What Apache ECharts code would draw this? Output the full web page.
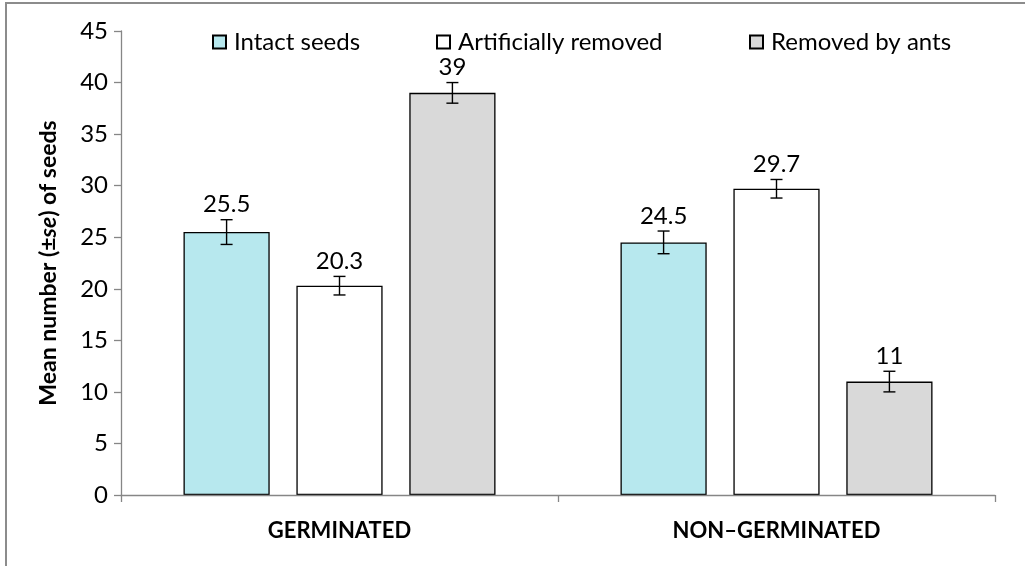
<!DOCTYPE html>
<html>
<head>
<meta charset="utf-8">
<script src="https://cdn.jsdelivr.net/npm/echarts@6/dist/echarts.min.js"></script>
<style>html,body{margin:0;padding:0;background:#fff}#c{width:1025px;height:566px}</style>
</head>
<body>
<div id="c"></div>
<script>
const categories = ['GERMINATED', 'NON\u2013GERMINATED'];
const seriesNames = ['Intact seeds', 'Artificially removed', 'Removed by ants'];
const intactSeeds = [25.5, 24.5];
const artificiallyRemoved = [20.3, 29.7];
const removedByAnts = [39, 11];
const intactErr = [1.2, 1.1];
const artificialErr = [0.9, 0.9];
const antsErr = [1.0, 1.0];
const yTicks = { min: 0, max: 45, interval: 5 };

const values = [intactSeeds, artificiallyRemoved, removedByAnts];
const errs = [intactErr, artificialErr, antsErr];
const colors = ['#B7E8EE', '#FFFFFF', '#D9D9D9'];
const CAT_GAP = 0.286, BAR_GAP = 0.31;
const FONT = 'Lato, "Liberation Sans", sans-serif';

const chart = echarts.init(document.getElementById('c'));

const barSeries = seriesNames.map((n, i) => ({
  name: n,
  type: 'bar',
  data: values[i],
  barGap: (BAR_GAP * 100) + '%',
  barCategoryGap: (CAT_GAP * 100) + '%',
  itemStyle: { color: colors[i], borderColor: '#000', borderWidth: 1.3 },
  emphasis: { disabled: true },
  z: 2
}));

const errSeries = seriesNames.map((n, i) => ({
  type: 'custom',
  silent: true,
  z: 5,
  data: values[i].map((v, k) => [k, v, errs[i][k]]),
  renderItem: function (params, api) {
    const k = api.value(0), v = api.value(1), e = api.value(2);
    const band = api.size([1, 0])[0];
    const barW = band * (1 - CAT_GAP) / (3 + 2 * BAR_GAP);
    const off = (i - 1) * barW * (1 + BAR_GAP);
    const top = api.coord([k, v + e]);
    const bot = api.coord([k, v - e]);
    const cx = top[0] + off;
    const cap = 6;
    const ls = { stroke: '#000', lineWidth: 1.4 };
    return {
      type: 'group',
      children: [
        { type: 'line', shape: { x1: cx, y1: top[1], x2: cx, y2: bot[1] }, style: ls },
        { type: 'line', shape: { x1: cx - cap, y1: top[1], x2: cx + cap, y2: top[1] }, style: ls },
        { type: 'line', shape: { x1: cx - cap, y1: bot[1], x2: cx + cap, y2: bot[1] }, style: ls },
        { type: 'text', style: { text: String(v), x: cx, y: top[1] - 3, align: 'center', verticalAlign: 'bottom', fill: '#000', font: '24px ' + FONT } }
      ]
    };
  }
}));

const legendLefts = [212, 436, 749];
const legends = seriesNames.map((n, i) => ({
  data: [n],
  left: legendLefts[i],
  top: 30,
  itemWidth: 13,
  itemHeight: 13,
  icon: 'rect',
  selectedMode: false,
  padding: 0,
  textStyle: { fontFamily: FONT, fontSize: 24, color: '#000', padding: [0, 0, 0, 3] }
}));

chart.setOption({
  animation: false,
  backgroundColor: '#fff',
  graphic: [{
    type: 'rect',
    shape: { x: 6, y: 3, width: 1200, height: 800 },
    style: { fill: 'none', stroke: '#8c8c8c', lineWidth: 2 },
    silent: true, z: 100
  }],
  legend: legends,
  grid: { left: 121, right: 30, top: 31, bottom: 71, containLabel: false },
  xAxis: {
    type: 'category',
    data: categories,
    z: 10,
    axisLine: { lineStyle: { color: '#868686', width: 1.3 } },
    axisTick: { show: true, alignWithLabel: false, length: 7, lineStyle: { color: '#868686', width: 1.3 } },
    axisLabel: { fontFamily: FONT, fontSize: 22, fontWeight: 'bold', color: '#000', margin: 25 }
  },
  yAxis: {
    type: 'value',
    min: yTicks.min, max: yTicks.max, interval: yTicks.interval,
    splitLine: { show: false },
    axisLine: { show: true, lineStyle: { color: '#868686', width: 1.3 } },
    axisTick: { show: true, length: 7, lineStyle: { color: '#868686', width: 1.3 } },
    axisLabel: { fontFamily: FONT, fontSize: 24, color: '#000', margin: 13 },
    name: '{b|Mean number (\u00b1}{i|se}{b|) of seeds}',
    nameLocation: 'middle',
    nameRotate: 90,
    nameGap: 61,
    nameTextStyle: {
      rich: {
        b: { fontFamily: FONT, fontSize: 23, fontWeight: 'bold', color: '#000' },
        i: { fontFamily: FONT, fontSize: 23, fontWeight: 'bold', fontStyle: 'italic', color: '#000' }
      }
    }
  },
  series: barSeries.concat(errSeries)
});
</script>
</body>
</html>
